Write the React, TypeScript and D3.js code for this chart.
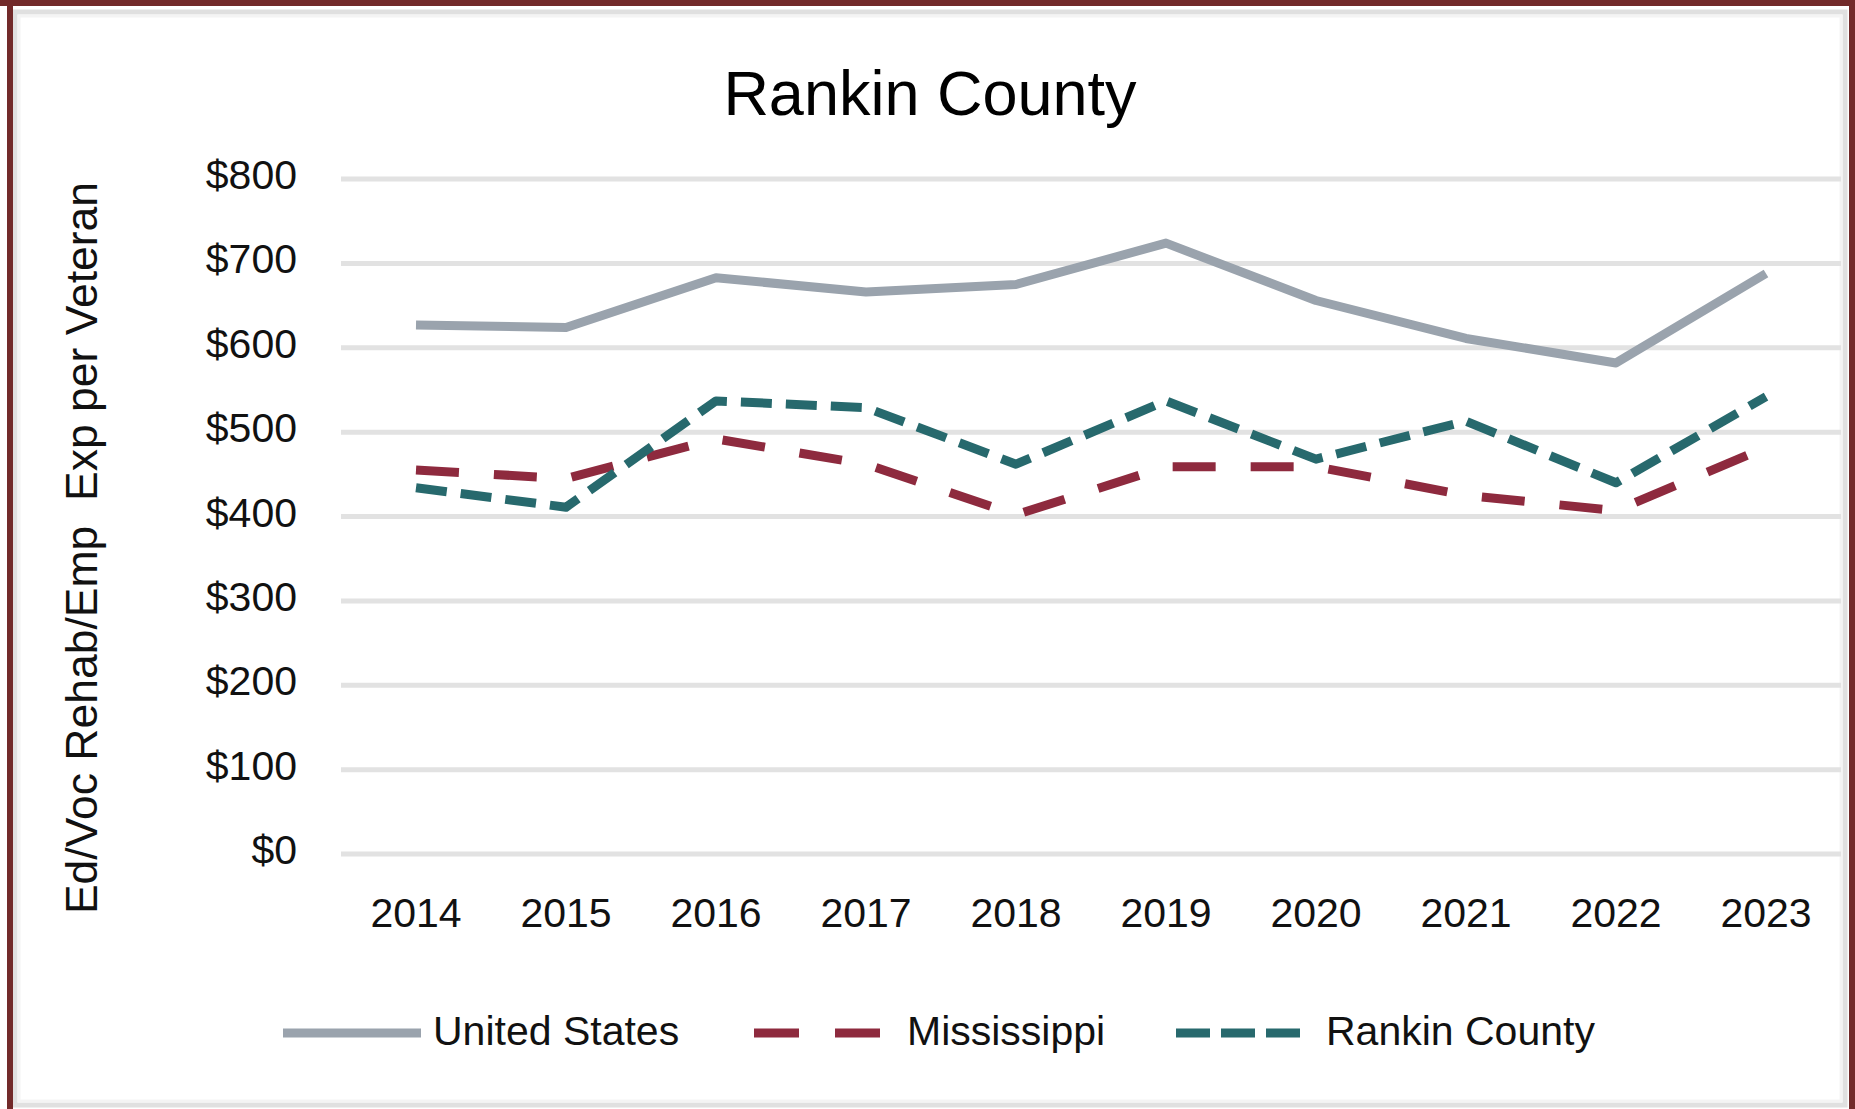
import React from "react";
import { scaleBand, scaleLinear, line, curveLinear } from "d3";

const years = ["2014", "2015", "2016", "2017", "2018", "2019", "2020", "2021", "2022", "2023"];
const unitedStates = [627, 624, 683, 666, 675, 724, 656, 611, 582, 688];
const mississippi = [455, 445, 492, 462, 402, 459, 459, 425, 407, 482];
const rankinCounty = [434, 411, 537, 529, 462, 537, 468, 513, 440, 542];
const yTicks = [0, 100, 200, 300, 400, 500, 600, 700, 800];

const seriesList = [
  { name: "United States", values: unitedStates, color: "#9aa3ad", dash: "none", legendDash: "none" },
  { name: "Mississippi", values: mississippi, color: "#8e2a3e", dash: "43,35", legendDash: "45,36" },
  { name: "Rankin County", values: rankinCounty, color: "#27696d", dash: "31,14", legendDash: "34,11" },
];

const W = 1855;
const H = 1109;
const FONT = "'Liberation Sans', Arial, sans-serif";

export default function App() {
  // plot area
  const left = 341;
  const right = 1841;
  const top = 179;
  const bottom = 854;

  const x = scaleBand().domain(years).range([left, right]);
  const y = scaleLinear().domain([0, 800]).range([bottom, top]);
  const cx = (yr: string) => (x(yr) ?? 0) + x.bandwidth() / 2;

  const lineGen = line<number>()
    .x((_, i) => cx(years[i]))
    .y((d) => y(d))
    .curve(curveLinear);

  // legend entries: line start/end and text start
  const legend = [
    { x0: 283, x1: 421, tx: 433 },
    { x0: 754, x1: 881, tx: 907 },
    { x0: 1176, x1: 1302, tx: 1326 },
  ];
  const legendY = 1033;

  return (
    <svg
      width={W}
      height={H}
      style={{ position: "absolute", left: 0, top: 0, background: "#fff" }}
      fontFamily={FONT}
    >
      {/* frame */}
      <rect x={0} y={0} width={W} height={H} fill="#fff" />
      <rect x={15} y={12} width={1830} height={1093} fill="none" stroke="#e0e0e0" strokeWidth={5} />
      <rect x={19} y={16} width={1822} height={1085} fill="none" stroke="#f4f4f4" strokeWidth={3} />
      <rect x={0} y={0} width={W} height={6} fill="#722a2a" />
      <rect x={7} y={0} width={6} height={H} fill="#722a2a" />
      <rect x={1849} y={0} width={6} height={H} fill="#722a2a" />

      {/* title */}
      <text x={930} y={115} textAnchor="middle" fontSize={63} fill="#000">
        Rankin County
      </text>

      {/* gridlines + y labels */}
      {yTicks.map((t) => (
        <g key={t}>
          <line x1={left} x2={right} y1={y(t)} y2={y(t)} stroke="#e2e2e2" strokeWidth={5} />
          <text x={297} y={y(t) + 10} textAnchor="end" fontSize={41} fill="#111">
            {`$${t}`}
          </text>
        </g>
      ))}

      {/* x labels */}
      {years.map((yr) => (
        <text key={yr} x={cx(yr)} y={927} textAnchor="middle" fontSize={41} fill="#111">
          {yr}
        </text>
      ))}

      {/* y axis title */}
      <text
        transform={`translate(97,548) rotate(-90)`}
        textAnchor="middle"
        fontSize={44.5}
        fill="#111"
        style={{ whiteSpace: "pre" }}
      >
        {"Ed/Voc Rehab/Emp  Exp per Veteran"}
      </text>

      {/* series */}
      {seriesList.map((s) => (
        <path
          key={s.name}
          d={lineGen(s.values) ?? ""}
          fill="none"
          stroke={s.color}
          strokeWidth={9}
          strokeDasharray={s.dash}
          strokeLinejoin="round"
        />
      ))}

      {/* legend */}
      {seriesList.map((s, i) => (
        <g key={s.name}>
          <line
            x1={legend[i].x0}
            x2={legend[i].x1}
            y1={legendY}
            y2={legendY}
            stroke={s.color}
            strokeWidth={9}
            strokeDasharray={s.legendDash}
          />
          <text x={legend[i].tx} y={1045} fontSize={41} fill="#111">
            {s.name}
          </text>
        </g>
      ))}
    </svg>
  );
}
